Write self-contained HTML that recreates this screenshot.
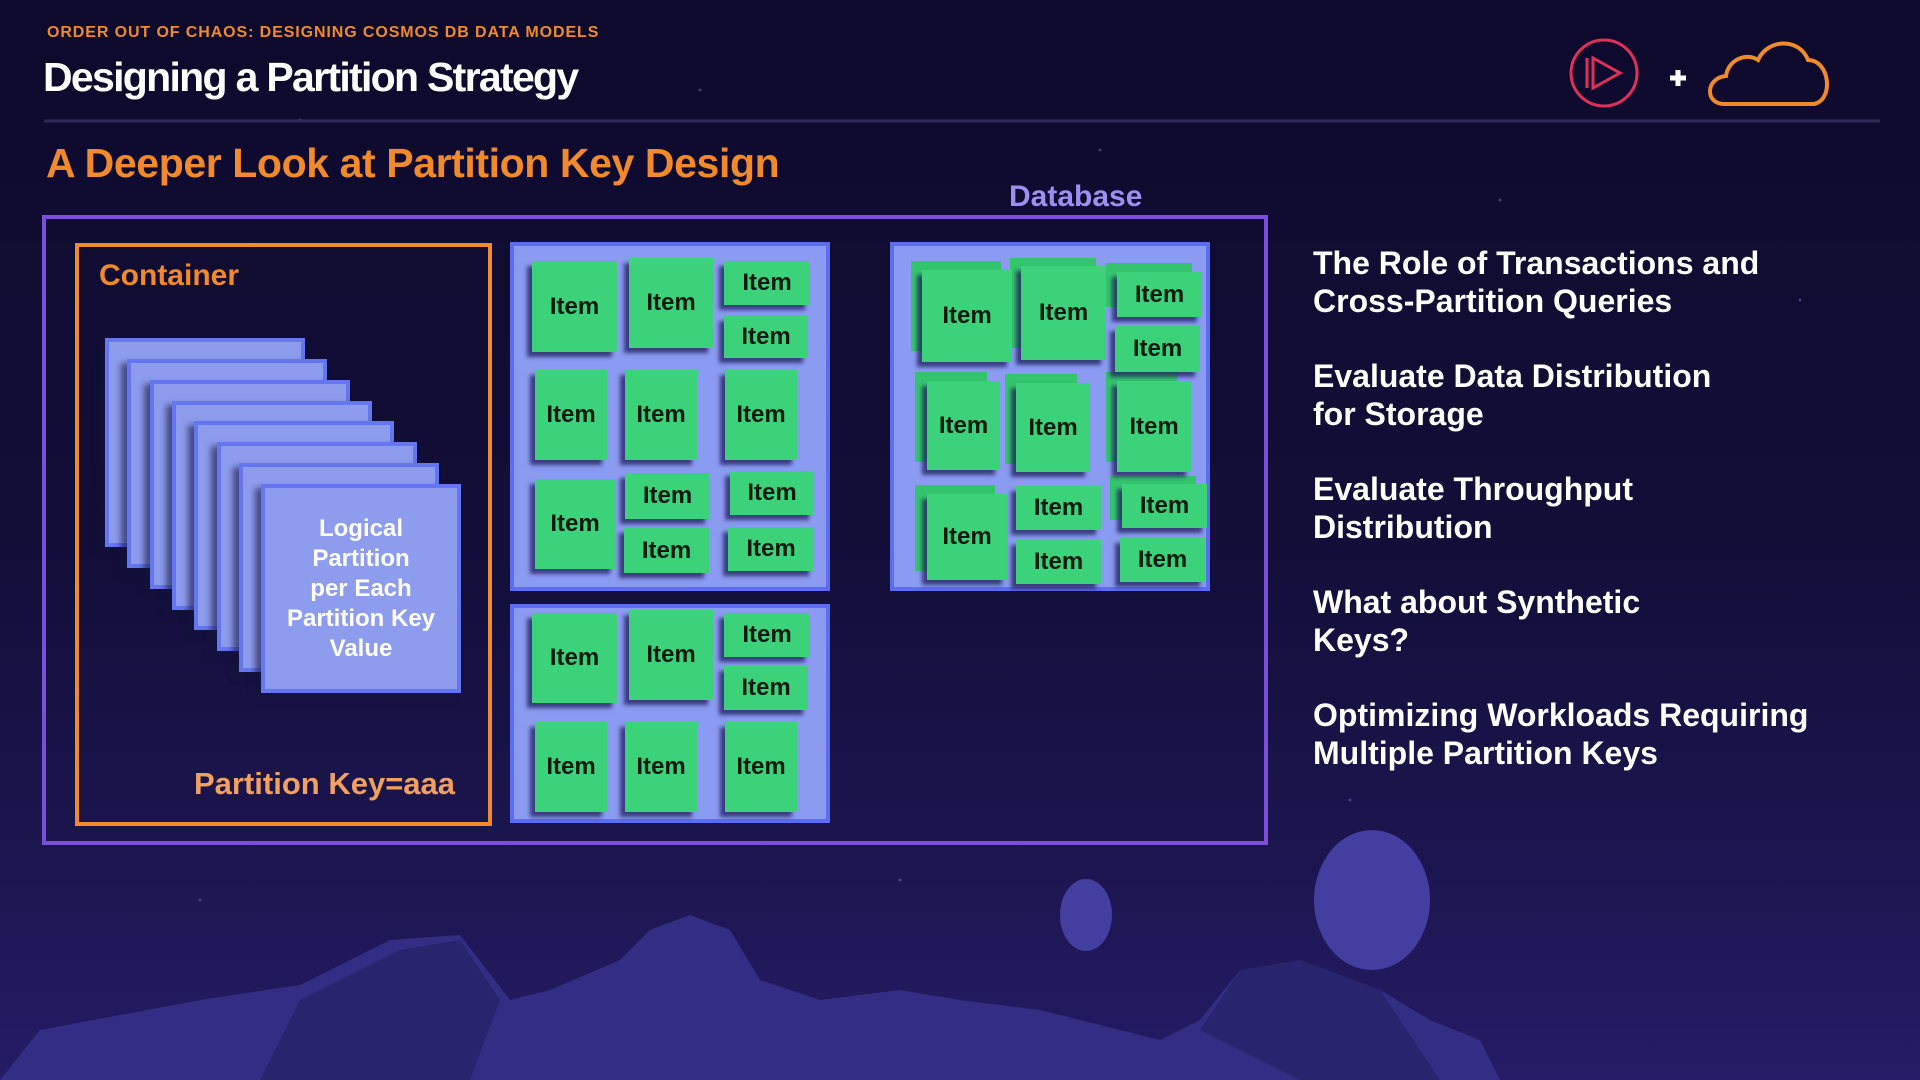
<!DOCTYPE html>
<html><head><meta charset="utf-8"><style>
*{margin:0;padding:0;box-sizing:border-box}
body{width:1920px;height:1080px;overflow:hidden;position:relative;font-family:"Liberation Sans",Arial,sans-serif;
background:linear-gradient(180deg,#0e0a2c 0%,#120e38 50%,#1c1650 80%,#241c66 100%);}
.a{position:absolute}
.it{position:absolute;background:#3cd27a;box-shadow:-5px 5px 4px rgba(30,30,90,.75);color:#0a1a10;font-weight:bold;font-size:24px;display:flex;align-items:center;justify-content:center}
.bk{position:absolute;background:#34c46e}
.box{position:absolute;background:#8c9bf2;border:4px solid #5b6df2}
.card{position:absolute;width:200px;height:209px;background:#8e9cee;border:4px solid #6476f0;box-shadow:-6px 4px 6px rgba(20,20,60,.6)}
.li{position:absolute;left:1313px;color:#fff;font-weight:bold;font-size:32px;line-height:38px}
</style></head><body>
<svg class="a" style="left:0;top:0" width="1920" height="1080">
 <g fill="#6a6ad0" opacity=".5">
  <circle cx="300" cy="120" r="1.5"/><circle cx="700" cy="90" r="1.5"/><circle cx="1100" cy="150" r="1.5"/><circle cx="1500" cy="200" r="1.5"/><circle cx="1800" cy="300" r="1.5"/><circle cx="1350" cy="800" r="1.5"/><circle cx="200" cy="900" r="1.5"/><circle cx="900" cy="880" r="1.5"/>
 </g>
 <line x1="44" y1="121" x2="1880" y2="121" stroke="#2c2a5a" stroke-width="3"/>
 <ellipse cx="1372" cy="900" rx="58" ry="70" fill="#433ea0"/>
 <ellipse cx="1086" cy="915" rx="26" ry="36" fill="#433ea0"/>
 <path d="M0 1080 L40 1030 L200 1000 L300 985 L390 940 L460 935 L510 1000 L550 990 L620 960 L650 930 L690 915 L730 930 L760 980 L820 1000 L900 990 L960 1000 L1040 1010 L1120 1030 L1160 1040 L1200 1020 L1240 970 L1300 960 L1380 990 L1430 1020 L1480 1040 L1500 1080 Z" fill="#332e84"/>
 <path d="M400 950 L460 940 L500 1000 L470 1080 L260 1080 L300 1000 Z" fill="#28246e"/>
 <path d="M1240 970 L1300 960 L1380 990 L1440 1080 L1300 1080 L1200 1030 Z" fill="#28246e"/>
 <circle cx="1604" cy="73" r="33" fill="none" stroke="#e0305a" stroke-width="3"/>
 <path d="M1593 58 L1620 73 L1593 88 Z M1587 58 L1587 88" fill="none" stroke="#e0305a" stroke-width="3"/>
 <path d="M1670 78 H1686 M1678 70 V86" stroke="#fff" stroke-width="5"/>
 <path d="M1724 104 C1705 104 1705 78 1726 76 C1728 60 1746 52 1758 60 C1768 38 1800 38 1808 60 C1830 60 1834 100 1814 104 Z" fill="none" stroke="#f08a2a" stroke-width="4"/>
</svg>
<div class="a" style="left:47px;top:24px;color:#f08a2a;font-weight:bold;font-size:16px;letter-spacing:.9px">ORDER OUT OF CHAOS: DESIGNING COSMOS DB DATA MODELS</div>
<div class="a" style="left:43px;top:54px;color:#fff;font-weight:bold;font-size:41px;letter-spacing:-1.7px">Designing a Partition Strategy</div>
<div class="a" style="left:46px;top:140px;color:#f08a2a;font-weight:bold;font-size:41px;letter-spacing:-0.4px">A Deeper Look at Partition Key Design</div>
<div class="a" style="left:1009px;top:180px;color:#9d8ff2;font-weight:bold;font-size:30px">Database</div>
<div class="a" style="left:42px;top:215px;width:1226px;height:630px;border:4px solid #7b4fdc"></div>
<div class="a" style="left:75px;top:243px;width:417px;height:583px;border:4px solid #f08a2a"></div>
<div class="a" style="left:99px;top:259px;color:#f08a2a;font-weight:bold;font-size:30px">Container</div>
<div class="card" style="left:105px;top:338px"></div>
<div class="card" style="left:127px;top:359px"></div>
<div class="card" style="left:150px;top:380px"></div>
<div class="card" style="left:172px;top:401px"></div>
<div class="card" style="left:194px;top:421px"></div>
<div class="card" style="left:217px;top:442px"></div>
<div class="card" style="left:239px;top:463px"></div>
<div class="card" style="left:261px;top:484px;display:flex;align-items:center;justify-content:center;text-align:center;color:#fff;font-weight:bold;font-size:24px;line-height:30px">Logical<br>Partition<br>per Each<br>Partition Key<br>Value</div>
<div class="a" style="left:194px;top:766px;color:#f0a060;font-weight:bold;font-size:31px">Partition Key=aaa</div>

<div class="box" style="left:510px;top:242px;width:320px;height:349px"></div>
<div class="it" style="left:532px;top:261px;width:85px;height:91px">Item</div>
<div class="it" style="left:629px;top:258px;width:84px;height:90px">Item</div>
<div class="it" style="left:724px;top:261px;width:86px;height:44px">Item</div>
<div class="it" style="left:724px;top:316px;width:84px;height:42px">Item</div>
<div class="it" style="left:535px;top:370px;width:72px;height:90px">Item</div>
<div class="it" style="left:625px;top:370px;width:72px;height:90px">Item</div>
<div class="it" style="left:725px;top:370px;width:72px;height:90px">Item</div>
<div class="it" style="left:535px;top:479px;width:80px;height:90px">Item</div>
<div class="it" style="left:625px;top:473px;width:85px;height:46px">Item</div>
<div class="it" style="left:730px;top:471px;width:84px;height:44px">Item</div>
<div class="it" style="left:624px;top:528px;width:85px;height:45px">Item</div>
<div class="it" style="left:728px;top:527px;width:86px;height:44px">Item</div>

<div class="box" style="left:510px;top:604px;width:320px;height:219px"></div>
<div class="it" style="left:532px;top:613px;width:85px;height:90px">Item</div>
<div class="it" style="left:629px;top:610px;width:84px;height:90px">Item</div>
<div class="it" style="left:724px;top:613px;width:86px;height:44px">Item</div>
<div class="it" style="left:724px;top:666px;width:84px;height:44px">Item</div>
<div class="it" style="left:535px;top:722px;width:72px;height:90px">Item</div>
<div class="it" style="left:625px;top:722px;width:72px;height:90px">Item</div>
<div class="it" style="left:725px;top:722px;width:72px;height:90px">Item</div>

<div class="box" style="left:890px;top:242px;width:320px;height:349px"></div>
<div class="bk" style="left:911px;top:261px;width:90px;height:90px"></div>
<div class="bk" style="left:1010px;top:258px;width:86px;height:90px"></div>
<div class="bk" style="left:1106px;top:263px;width:86px;height:44px"></div>
<div class="bk" style="left:915px;top:372px;width:72px;height:90px"></div>
<div class="bk" style="left:1005px;top:374px;width:72px;height:90px"></div>
<div class="bk" style="left:1106px;top:372px;width:72px;height:90px"></div>
<div class="bk" style="left:915px;top:485px;width:80px;height:86px"></div>
<div class="bk" style="left:1110px;top:476px;width:86px;height:44px"></div>
<div class="it" style="left:922px;top:270px;width:90px;height:92px">Item</div>
<div class="it" style="left:1021px;top:266px;width:85px;height:94px">Item</div>
<div class="it" style="left:1117px;top:272px;width:85px;height:45px">Item</div>
<div class="it" style="left:1115px;top:326px;width:85px;height:46px">Item</div>
<div class="it" style="left:927px;top:381px;width:73px;height:89px">Item</div>
<div class="it" style="left:1016px;top:383px;width:74px;height:89px">Item</div>
<div class="it" style="left:1117px;top:381px;width:74px;height:91px">Item</div>
<div class="it" style="left:927px;top:494px;width:80px;height:86px">Item</div>
<div class="it" style="left:1016px;top:486px;width:85px;height:44px">Item</div>
<div class="it" style="left:1122px;top:484px;width:85px;height:44px">Item</div>
<div class="it" style="left:1016px;top:540px;width:85px;height:44px">Item</div>
<div class="it" style="left:1120px;top:538px;width:85px;height:44px">Item</div>

<div class="li" style="top:244px">The Role of Transactions and<br>Cross-Partition Queries</div>
<div class="li" style="top:357px">Evaluate Data Distribution<br>for Storage</div>
<div class="li" style="top:470px">Evaluate Throughput<br>Distribution</div>
<div class="li" style="top:583px">What about Synthetic<br>Keys?</div>
<div class="li" style="top:696px">Optimizing Workloads Requiring<br>Multiple Partition Keys</div>
</body></html>
